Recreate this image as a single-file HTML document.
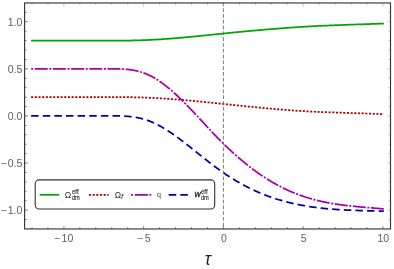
<!DOCTYPE html>
<html><head><meta charset="utf-8"><title>plot</title>
<style>html,body{margin:0;padding:0;background:#fff;}body{width:394px;height:269px;position:relative;overflow:hidden;font-family:"Liberation Sans",sans-serif;}</style>
</head><body>
<svg width="394" height="269" viewBox="0 0 394 269" style="position:absolute;left:0;top:0;will-change:transform">
<rect width="394" height="269" fill="#fff"/>
<path d="M31.10,40.61 L31.90,40.61 L32.70,40.61 L33.50,40.61 L34.31,40.61 L35.11,40.61 L35.91,40.61 L36.71,40.61 L37.51,40.61 L38.31,40.61 L39.12,40.61 L39.92,40.61 L40.72,40.61 L41.52,40.61 L42.32,40.61 L43.12,40.61 L43.93,40.61 L44.73,40.61 L45.53,40.61 L46.33,40.61 L47.13,40.61 L47.93,40.61 L48.74,40.61 L49.54,40.61 L50.34,40.61 L51.14,40.61 L51.94,40.61 L52.74,40.61 L53.54,40.61 L54.35,40.61 L55.15,40.61 L55.95,40.61 L56.75,40.61 L57.55,40.61 L58.35,40.61 L59.16,40.61 L59.96,40.61 L60.76,40.61 L61.56,40.61 L62.36,40.61 L63.16,40.61 L63.97,40.61 L64.77,40.61 L65.57,40.61 L66.37,40.61 L67.17,40.61 L67.97,40.61 L68.77,40.61 L69.58,40.61 L70.38,40.61 L71.18,40.61 L71.98,40.61 L72.78,40.61 L73.58,40.61 L74.39,40.61 L75.19,40.61 L75.99,40.61 L76.79,40.61 L77.59,40.61 L78.39,40.61 L79.20,40.61 L80.00,40.61 L80.80,40.61 L81.60,40.61 L82.40,40.61 L83.20,40.61 L84.01,40.61 L84.81,40.61 L85.61,40.61 L86.41,40.61 L87.21,40.61 L88.01,40.61 L88.81,40.61 L89.62,40.61 L90.42,40.61 L91.22,40.61 L92.02,40.61 L92.82,40.61 L93.62,40.61 L94.43,40.61 L95.23,40.61 L96.03,40.61 L96.83,40.61 L97.63,40.61 L98.43,40.61 L99.24,40.61 L100.04,40.61 L100.84,40.61 L101.64,40.61 L102.44,40.61 L103.24,40.61 L104.04,40.61 L104.85,40.61 L105.65,40.61 L106.45,40.61 L107.25,40.61 L108.05,40.61 L108.85,40.61 L109.66,40.61 L110.46,40.61 L111.26,40.61 L112.06,40.61 L112.86,40.61 L113.66,40.61 L114.47,40.61 L115.27,40.61 L116.07,40.61 L116.87,40.61 L117.67,40.61 L118.47,40.61 L119.28,40.61 L120.08,40.61 L120.88,40.61 L121.68,40.61 L122.48,40.61 L123.28,40.61 L124.08,40.61 L124.89,40.60 L125.69,40.59 L126.49,40.58 L127.29,40.57 L128.09,40.56 L128.89,40.55 L129.70,40.53 L130.50,40.52 L131.30,40.51 L132.10,40.49 L132.90,40.47 L133.70,40.46 L134.51,40.44 L135.31,40.42 L136.11,40.40 L136.91,40.38 L137.71,40.35 L138.51,40.33 L139.31,40.31 L140.12,40.28 L140.92,40.25 L141.72,40.23 L142.52,40.20 L143.32,40.17 L144.12,40.14 L144.93,40.11 L145.73,40.07 L146.53,40.04 L147.33,40.01 L148.13,39.97 L148.93,39.93 L149.74,39.90 L150.54,39.86 L151.34,39.82 L152.14,39.78 L152.94,39.74 L153.74,39.69 L154.55,39.65 L155.35,39.60 L156.15,39.56 L156.95,39.51 L157.75,39.47 L158.55,39.42 L159.35,39.37 L160.16,39.32 L160.96,39.27 L161.76,39.22 L162.56,39.16 L163.36,39.11 L164.16,39.06 L164.97,39.00 L165.77,38.94 L166.57,38.89 L167.37,38.83 L168.17,38.77 L168.97,38.71 L169.78,38.65 L170.58,38.59 L171.38,38.53 L172.18,38.47 L172.98,38.40 L173.78,38.34 L174.58,38.28 L175.39,38.21 L176.19,38.15 L176.99,38.08 L177.79,38.01 L178.59,37.94 L179.39,37.87 L180.20,37.81 L181.00,37.74 L181.80,37.66 L182.60,37.59 L183.40,37.52 L184.20,37.45 L185.01,37.38 L185.81,37.30 L186.61,37.23 L187.41,37.15 L188.21,37.08 L189.01,37.00 L189.82,36.93 L190.62,36.85 L191.42,36.77 L192.22,36.70 L193.02,36.62 L193.82,36.54 L194.62,36.46 L195.43,36.38 L196.23,36.30 L197.03,36.22 L197.83,36.14 L198.63,36.06 L199.43,35.98 L200.24,35.90 L201.04,35.82 L201.84,35.74 L202.64,35.66 L203.44,35.58 L204.24,35.50 L205.05,35.41 L205.85,35.33 L206.65,35.25 L207.45,35.17 L208.25,35.08 L209.05,35.00 L209.85,34.92 L210.66,34.84 L211.46,34.75 L212.26,34.67 L213.06,34.59 L213.86,34.50 L214.66,34.42 L215.47,34.34 L216.27,34.26 L217.07,34.17 L217.87,34.09 L218.67,34.01 L219.47,33.93 L220.28,33.84 L221.08,33.76 L221.88,33.68 L222.68,33.60 L223.48,33.52 L224.28,33.43 L225.09,33.35 L225.89,33.27 L226.69,33.19 L227.49,33.11 L228.29,33.03 L229.09,32.95 L229.89,32.87 L230.70,32.79 L231.50,32.71 L232.30,32.63 L233.10,32.55 L233.90,32.47 L234.70,32.39 L235.51,32.32 L236.31,32.24 L237.11,32.16 L237.91,32.08 L238.71,32.00 L239.51,31.93 L240.32,31.85 L241.12,31.77 L241.92,31.70 L242.72,31.62 L243.52,31.55 L244.32,31.47 L245.12,31.40 L245.93,31.32 L246.73,31.25 L247.53,31.17 L248.33,31.10 L249.13,31.03 L249.93,30.95 L250.74,30.88 L251.54,30.81 L252.34,30.74 L253.14,30.66 L253.94,30.59 L254.74,30.52 L255.55,30.45 L256.35,30.38 L257.15,30.31 L257.95,30.24 L258.75,30.17 L259.55,30.10 L260.36,30.03 L261.16,29.96 L261.96,29.89 L262.76,29.82 L263.56,29.75 L264.36,29.69 L265.16,29.62 L265.97,29.55 L266.77,29.48 L267.57,29.42 L268.37,29.35 L269.17,29.28 L269.97,29.22 L270.78,29.15 L271.58,29.09 L272.38,29.02 L273.18,28.96 L273.98,28.89 L274.78,28.83 L275.59,28.76 L276.39,28.70 L277.19,28.64 L277.99,28.57 L278.79,28.51 L279.59,28.45 L280.39,28.39 L281.20,28.32 L282.00,28.26 L282.80,28.20 L283.60,28.14 L284.40,28.08 L285.20,28.02 L286.01,27.96 L286.81,27.90 L287.61,27.84 L288.41,27.78 L289.21,27.73 L290.01,27.67 L290.82,27.61 L291.62,27.56 L292.42,27.50 L293.22,27.44 L294.02,27.39 L294.82,27.33 L295.62,27.28 L296.43,27.22 L297.23,27.17 L298.03,27.12 L298.83,27.07 L299.63,27.01 L300.43,26.96 L301.24,26.91 L302.04,26.86 L302.84,26.81 L303.64,26.76 L304.44,26.71 L305.24,26.67 L306.05,26.62 L306.85,26.57 L307.65,26.53 L308.45,26.48 L309.25,26.44 L310.05,26.39 L310.86,26.35 L311.66,26.30 L312.46,26.26 L313.26,26.22 L314.06,26.18 L314.86,26.14 L315.66,26.09 L316.47,26.05 L317.27,26.01 L318.07,25.97 L318.87,25.94 L319.67,25.90 L320.47,25.86 L321.28,25.82 L322.08,25.78 L322.88,25.75 L323.68,25.71 L324.48,25.68 L325.28,25.64 L326.09,25.60 L326.89,25.57 L327.69,25.53 L328.49,25.50 L329.29,25.47 L330.09,25.43 L330.90,25.40 L331.70,25.37 L332.50,25.34 L333.30,25.30 L334.10,25.27 L334.90,25.24 L335.70,25.21 L336.51,25.18 L337.31,25.15 L338.11,25.12 L338.91,25.09 L339.71,25.06 L340.51,25.03 L341.32,25.00 L342.12,24.97 L342.92,24.94 L343.72,24.91 L344.52,24.88 L345.32,24.86 L346.13,24.83 L346.93,24.80 L347.73,24.77 L348.53,24.74 L349.33,24.72 L350.13,24.69 L350.93,24.66 L351.74,24.63 L352.54,24.61 L353.34,24.58 L354.14,24.55 L354.94,24.53 L355.74,24.50 L356.55,24.47 L357.35,24.45 L358.15,24.42 L358.95,24.39 L359.75,24.37 L360.55,24.34 L361.36,24.31 L362.16,24.29 L362.96,24.26 L363.76,24.23 L364.56,24.21 L365.36,24.18 L366.17,24.16 L366.97,24.13 L367.77,24.10 L368.57,24.07 L369.37,24.05 L370.17,24.02 L370.97,23.99 L371.78,23.97 L372.58,23.94 L373.38,23.91 L374.18,23.88 L374.98,23.86 L375.78,23.83 L376.59,23.80 L377.39,23.77 L378.19,23.74 L378.99,23.71 L379.79,23.68 L380.59,23.66 L381.40,23.63 L382.20,23.60 L383.00,23.57 L383.80,23.57" fill="none" stroke="#00a500" stroke-width="1.75"/>
<path d="M31.10,97.12 L31.90,97.12 L32.70,97.12 L33.50,97.12 L34.31,97.12 L35.11,97.12 L35.91,97.12 L36.71,97.12 L37.51,97.12 L38.31,97.12 L39.12,97.12 L39.92,97.12 L40.72,97.12 L41.52,97.12 L42.32,97.12 L43.12,97.12 L43.93,97.12 L44.73,97.12 L45.53,97.12 L46.33,97.12 L47.13,97.12 L47.93,97.12 L48.74,97.12 L49.54,97.12 L50.34,97.12 L51.14,97.12 L51.94,97.12 L52.74,97.12 L53.54,97.12 L54.35,97.12 L55.15,97.12 L55.95,97.12 L56.75,97.12 L57.55,97.12 L58.35,97.12 L59.16,97.12 L59.96,97.12 L60.76,97.12 L61.56,97.12 L62.36,97.12 L63.16,97.12 L63.97,97.12 L64.77,97.12 L65.57,97.12 L66.37,97.12 L67.17,97.12 L67.97,97.12 L68.77,97.12 L69.58,97.12 L70.38,97.12 L71.18,97.12 L71.98,97.12 L72.78,97.12 L73.58,97.12 L74.39,97.12 L75.19,97.12 L75.99,97.12 L76.79,97.12 L77.59,97.12 L78.39,97.12 L79.20,97.12 L80.00,97.12 L80.80,97.12 L81.60,97.12 L82.40,97.12 L83.20,97.12 L84.01,97.12 L84.81,97.12 L85.61,97.12 L86.41,97.12 L87.21,97.12 L88.01,97.12 L88.81,97.12 L89.62,97.12 L90.42,97.12 L91.22,97.12 L92.02,97.12 L92.82,97.12 L93.62,97.12 L94.43,97.12 L95.23,97.12 L96.03,97.12 L96.83,97.12 L97.63,97.12 L98.43,97.12 L99.24,97.12 L100.04,97.12 L100.84,97.12 L101.64,97.12 L102.44,97.12 L103.24,97.12 L104.04,97.12 L104.85,97.12 L105.65,97.12 L106.45,97.12 L107.25,97.12 L108.05,97.12 L108.85,97.12 L109.66,97.12 L110.46,97.12 L111.26,97.12 L112.06,97.12 L112.86,97.12 L113.66,97.12 L114.47,97.12 L115.27,97.12 L116.07,97.12 L116.87,97.12 L117.67,97.12 L118.47,97.12 L119.28,97.12 L120.08,97.12 L120.88,97.12 L121.68,97.12 L122.48,97.12 L123.28,97.13 L124.08,97.13 L124.89,97.13 L125.69,97.14 L126.49,97.15 L127.29,97.16 L128.09,97.17 L128.89,97.18 L129.70,97.19 L130.50,97.20 L131.30,97.21 L132.10,97.22 L132.90,97.24 L133.70,97.25 L134.51,97.27 L135.31,97.28 L136.11,97.30 L136.91,97.32 L137.71,97.34 L138.51,97.36 L139.31,97.38 L140.12,97.40 L140.92,97.43 L141.72,97.45 L142.52,97.48 L143.32,97.51 L144.12,97.53 L144.93,97.56 L145.73,97.59 L146.53,97.63 L147.33,97.66 L148.13,97.69 L148.93,97.73 L149.74,97.76 L150.54,97.80 L151.34,97.84 L152.14,97.87 L152.94,97.91 L153.74,97.96 L154.55,98.00 L155.35,98.04 L156.15,98.08 L156.95,98.13 L157.75,98.17 L158.55,98.22 L159.35,98.27 L160.16,98.31 L160.96,98.36 L161.76,98.41 L162.56,98.46 L163.36,98.51 L164.16,98.57 L164.97,98.62 L165.77,98.67 L166.57,98.73 L167.37,98.78 L168.17,98.84 L168.97,98.90 L169.78,98.95 L170.58,99.01 L171.38,99.07 L172.18,99.13 L172.98,99.19 L173.78,99.25 L174.58,99.32 L175.39,99.38 L176.19,99.44 L176.99,99.51 L177.79,99.57 L178.59,99.64 L179.39,99.70 L180.20,99.77 L181.00,99.83 L181.80,99.90 L182.60,99.97 L183.40,100.04 L184.20,100.11 L185.01,100.18 L185.81,100.25 L186.61,100.32 L187.41,100.39 L188.21,100.46 L189.01,100.53 L189.82,100.61 L190.62,100.68 L191.42,100.75 L192.22,100.83 L193.02,100.90 L193.82,100.98 L194.62,101.05 L195.43,101.13 L196.23,101.20 L197.03,101.28 L197.83,101.36 L198.63,101.43 L199.43,101.51 L200.24,101.59 L201.04,101.66 L201.84,101.74 L202.64,101.82 L203.44,101.90 L204.24,101.98 L205.05,102.06 L205.85,102.14 L206.65,102.22 L207.45,102.30 L208.25,102.38 L209.05,102.46 L209.85,102.54 L210.66,102.62 L211.46,102.70 L212.26,102.78 L213.06,102.87 L213.86,102.95 L214.66,103.03 L215.47,103.11 L216.27,103.20 L217.07,103.28 L217.87,103.36 L218.67,103.44 L219.47,103.53 L220.28,103.61 L221.08,103.69 L221.88,103.78 L222.68,103.86 L223.48,103.94 L224.28,104.03 L225.09,104.11 L225.89,104.19 L226.69,104.28 L227.49,104.36 L228.29,104.44 L229.09,104.53 L229.89,104.61 L230.70,104.69 L231.50,104.78 L232.30,104.86 L233.10,104.94 L233.90,105.03 L234.70,105.11 L235.51,105.20 L236.31,105.28 L237.11,105.36 L237.91,105.45 L238.71,105.53 L239.51,105.61 L240.32,105.69 L241.12,105.78 L241.92,105.86 L242.72,105.94 L243.52,106.02 L244.32,106.11 L245.12,106.19 L245.93,106.27 L246.73,106.35 L247.53,106.43 L248.33,106.52 L249.13,106.60 L249.93,106.68 L250.74,106.76 L251.54,106.84 L252.34,106.92 L253.14,107.00 L253.94,107.08 L254.74,107.16 L255.55,107.24 L256.35,107.32 L257.15,107.40 L257.95,107.47 L258.75,107.55 L259.55,107.63 L260.36,107.71 L261.16,107.78 L261.96,107.86 L262.76,107.94 L263.56,108.01 L264.36,108.09 L265.16,108.16 L265.97,108.24 L266.77,108.31 L267.57,108.39 L268.37,108.46 L269.17,108.54 L269.97,108.61 L270.78,108.68 L271.58,108.75 L272.38,108.82 L273.18,108.90 L273.98,108.97 L274.78,109.04 L275.59,109.11 L276.39,109.18 L277.19,109.24 L277.99,109.31 L278.79,109.38 L279.59,109.45 L280.39,109.51 L281.20,109.58 L282.00,109.64 L282.80,109.71 L283.60,109.77 L284.40,109.84 L285.20,109.90 L286.01,109.96 L286.81,110.03 L287.61,110.09 L288.41,110.15 L289.21,110.21 L290.01,110.27 L290.82,110.33 L291.62,110.38 L292.42,110.44 L293.22,110.50 L294.02,110.55 L294.82,110.61 L295.62,110.66 L296.43,110.72 L297.23,110.77 L298.03,110.82 L298.83,110.88 L299.63,110.93 L300.43,110.98 L301.24,111.03 L302.04,111.07 L302.84,111.12 L303.64,111.17 L304.44,111.22 L305.24,111.26 L306.05,111.31 L306.85,111.35 L307.65,111.39 L308.45,111.44 L309.25,111.48 L310.05,111.52 L310.86,111.56 L311.66,111.60 L312.46,111.64 L313.26,111.68 L314.06,111.71 L314.86,111.75 L315.66,111.79 L316.47,111.82 L317.27,111.86 L318.07,111.89 L318.87,111.93 L319.67,111.96 L320.47,112.00 L321.28,112.03 L322.08,112.06 L322.88,112.09 L323.68,112.12 L324.48,112.15 L325.28,112.18 L326.09,112.21 L326.89,112.24 L327.69,112.27 L328.49,112.30 L329.29,112.33 L330.09,112.36 L330.90,112.39 L331.70,112.41 L332.50,112.44 L333.30,112.47 L334.10,112.49 L334.90,112.52 L335.70,112.55 L336.51,112.57 L337.31,112.60 L338.11,112.62 L338.91,112.65 L339.71,112.67 L340.51,112.70 L341.32,112.72 L342.12,112.75 L342.92,112.77 L343.72,112.80 L344.52,112.82 L345.32,112.85 L346.13,112.87 L346.93,112.89 L347.73,112.92 L348.53,112.94 L349.33,112.97 L350.13,112.99 L350.93,113.01 L351.74,113.04 L352.54,113.06 L353.34,113.09 L354.14,113.11 L354.94,113.14 L355.74,113.16 L356.55,113.18 L357.35,113.21 L358.15,113.23 L358.95,113.26 L359.75,113.29 L360.55,113.31 L361.36,113.34 L362.16,113.36 L362.96,113.39 L363.76,113.42 L364.56,113.44 L365.36,113.47 L366.17,113.50 L366.97,113.52 L367.77,113.55 L368.57,113.58 L369.37,113.61 L370.17,113.64 L370.97,113.67 L371.78,113.70 L372.58,113.73 L373.38,113.76 L374.18,113.79 L374.98,113.82 L375.78,113.85 L376.59,113.89 L377.39,113.92 L378.19,113.95 L378.99,113.99 L379.79,114.02 L380.59,114.06 L381.40,114.09 L382.20,114.13 L383.00,114.16 L383.80,114.16" fill="none" stroke="#aa0000" stroke-width="1.75" stroke-dasharray="2.1 1.58"/>
<path d="M31.10,68.87 L31.90,68.87 L32.70,68.87 L33.50,68.87 L34.31,68.87 L35.11,68.87 L35.91,68.87 L36.71,68.87 L37.51,68.87 L38.31,68.87 L39.12,68.87 L39.92,68.87 L40.72,68.87 L41.52,68.87 L42.32,68.87 L43.12,68.87 L43.93,68.87 L44.73,68.87 L45.53,68.87 L46.33,68.87 L47.13,68.87 L47.93,68.87 L48.74,68.87 L49.54,68.87 L50.34,68.87 L51.14,68.87 L51.94,68.87 L52.74,68.87 L53.54,68.87 L54.35,68.87 L55.15,68.87 L55.95,68.87 L56.75,68.87 L57.55,68.87 L58.35,68.87 L59.16,68.87 L59.96,68.87 L60.76,68.87 L61.56,68.87 L62.36,68.87 L63.16,68.87 L63.97,68.87 L64.77,68.87 L65.57,68.87 L66.37,68.87 L67.17,68.87 L67.97,68.87 L68.77,68.87 L69.58,68.87 L70.38,68.87 L71.18,68.87 L71.98,68.87 L72.78,68.87 L73.58,68.87 L74.39,68.87 L75.19,68.87 L75.99,68.87 L76.79,68.87 L77.59,68.87 L78.39,68.87 L79.20,68.87 L80.00,68.87 L80.80,68.87 L81.60,68.87 L82.40,68.87 L83.20,68.87 L84.01,68.87 L84.81,68.87 L85.61,68.87 L86.41,68.87 L87.21,68.87 L88.01,68.87 L88.81,68.87 L89.62,68.87 L90.42,68.87 L91.22,68.87 L92.02,68.87 L92.82,68.87 L93.62,68.87 L94.43,68.87 L95.23,68.87 L96.03,68.87 L96.83,68.87 L97.63,68.87 L98.43,68.87 L99.24,68.87 L100.04,68.87 L100.84,68.87 L101.64,68.87 L102.44,68.87 L103.24,68.87 L104.04,68.87 L104.85,68.87 L105.65,68.87 L106.45,68.87 L107.25,68.87 L108.05,68.87 L108.85,68.87 L109.66,68.87 L110.46,68.87 L111.26,68.87 L112.06,68.87 L112.86,68.87 L113.66,68.87 L114.47,68.87 L115.27,68.87 L116.07,68.87 L116.87,68.87 L117.67,68.88 L118.47,68.89 L119.28,68.90 L120.08,68.91 L120.88,68.93 L121.68,68.97 L122.48,69.01 L123.28,69.06 L124.08,69.11 L124.89,69.17 L125.69,69.23 L126.49,69.30 L127.29,69.38 L128.09,69.46 L128.89,69.55 L129.70,69.65 L130.50,69.76 L131.30,69.87 L132.10,69.99 L132.90,70.13 L133.70,70.27 L134.51,70.42 L135.31,70.58 L136.11,70.75 L136.91,70.93 L137.71,71.13 L138.51,71.33 L139.31,71.55 L140.12,71.77 L140.92,72.01 L141.72,72.26 L142.52,72.52 L143.32,72.80 L144.12,73.09 L144.93,73.39 L145.73,73.71 L146.53,74.04 L147.33,74.38 L148.13,74.73 L148.93,75.11 L149.74,75.49 L150.54,75.90 L151.34,76.31 L152.14,76.73 L152.94,77.17 L153.74,77.63 L154.55,78.09 L155.35,78.57 L156.15,79.06 L156.95,79.56 L157.75,80.07 L158.55,80.60 L159.35,81.14 L160.16,81.69 L160.96,82.25 L161.76,82.82 L162.56,83.40 L163.36,83.99 L164.16,84.59 L164.97,85.21 L165.77,85.83 L166.57,86.46 L167.37,87.11 L168.17,87.76 L168.97,88.42 L169.78,89.09 L170.58,89.77 L171.38,90.46 L172.18,91.15 L172.98,91.86 L173.78,92.57 L174.58,93.29 L175.39,94.02 L176.19,94.76 L176.99,95.50 L177.79,96.25 L178.59,97.01 L179.39,97.78 L180.20,98.55 L181.00,99.33 L181.80,100.11 L182.60,100.90 L183.40,101.70 L184.20,102.50 L185.01,103.30 L185.81,104.12 L186.61,104.93 L187.41,105.75 L188.21,106.58 L189.01,107.41 L189.82,108.24 L190.62,109.08 L191.42,109.92 L192.22,110.77 L193.02,111.62 L193.82,112.47 L194.62,113.32 L195.43,114.17 L196.23,115.03 L197.03,115.89 L197.83,116.75 L198.63,117.62 L199.43,118.48 L200.24,119.34 L201.04,120.21 L201.84,121.07 L202.64,121.94 L203.44,122.81 L204.24,123.67 L205.05,124.54 L205.85,125.40 L206.65,126.26 L207.45,127.13 L208.25,127.99 L209.05,128.84 L209.85,129.70 L210.66,130.56 L211.46,131.41 L212.26,132.26 L213.06,133.10 L213.86,133.95 L214.66,134.78 L215.47,135.62 L216.27,136.45 L217.07,137.28 L217.87,138.10 L218.67,138.92 L219.47,139.73 L220.28,140.54 L221.08,141.34 L221.88,142.14 L222.68,142.93 L223.48,143.72 L224.28,144.51 L225.09,145.29 L225.89,146.06 L226.69,146.83 L227.49,147.60 L228.29,148.36 L229.09,149.11 L229.89,149.86 L230.70,150.61 L231.50,151.35 L232.30,152.09 L233.10,152.82 L233.90,153.54 L234.70,154.27 L235.51,154.98 L236.31,155.69 L237.11,156.40 L237.91,157.10 L238.71,157.80 L239.51,158.49 L240.32,159.17 L241.12,159.86 L241.92,160.53 L242.72,161.20 L243.52,161.87 L244.32,162.53 L245.12,163.18 L245.93,163.83 L246.73,164.48 L247.53,165.11 L248.33,165.75 L249.13,166.38 L249.93,167.00 L250.74,167.62 L251.54,168.23 L252.34,168.83 L253.14,169.44 L253.94,170.03 L254.74,170.62 L255.55,171.21 L256.35,171.78 L257.15,172.36 L257.95,172.93 L258.75,173.49 L259.55,174.04 L260.36,174.60 L261.16,175.14 L261.96,175.68 L262.76,176.21 L263.56,176.74 L264.36,177.27 L265.16,177.78 L265.97,178.30 L266.77,178.80 L267.57,179.30 L268.37,179.80 L269.17,180.29 L269.97,180.78 L270.78,181.26 L271.58,181.73 L272.38,182.20 L273.18,182.66 L273.98,183.12 L274.78,183.57 L275.59,184.02 L276.39,184.46 L277.19,184.90 L277.99,185.33 L278.79,185.76 L279.59,186.18 L280.39,186.59 L281.20,187.00 L282.00,187.41 L282.80,187.81 L283.60,188.21 L284.40,188.60 L285.20,188.98 L286.01,189.36 L286.81,189.74 L287.61,190.11 L288.41,190.47 L289.21,190.83 L290.01,191.18 L290.82,191.53 L291.62,191.88 L292.42,192.22 L293.22,192.55 L294.02,192.88 L294.82,193.21 L295.62,193.53 L296.43,193.84 L297.23,194.15 L298.03,194.46 L298.83,194.76 L299.63,195.06 L300.43,195.35 L301.24,195.63 L302.04,195.92 L302.84,196.19 L303.64,196.46 L304.44,196.73 L305.24,197.00 L306.05,197.25 L306.85,197.51 L307.65,197.76 L308.45,198.00 L309.25,198.24 L310.05,198.48 L310.86,198.71 L311.66,198.94 L312.46,199.16 L313.26,199.38 L314.06,199.60 L314.86,199.81 L315.66,200.02 L316.47,200.22 L317.27,200.42 L318.07,200.62 L318.87,200.81 L319.67,201.00 L320.47,201.18 L321.28,201.36 L322.08,201.54 L322.88,201.72 L323.68,201.89 L324.48,202.05 L325.28,202.22 L326.09,202.38 L326.89,202.53 L327.69,202.69 L328.49,202.84 L329.29,202.99 L330.09,203.13 L330.90,203.27 L331.70,203.41 L332.50,203.55 L333.30,203.68 L334.10,203.81 L334.90,203.94 L335.70,204.06 L336.51,204.18 L337.31,204.30 L338.11,204.42 L338.91,204.53 L339.71,204.64 L340.51,204.75 L341.32,204.86 L342.12,204.96 L342.92,205.07 L343.72,205.17 L344.52,205.26 L345.32,205.36 L346.13,205.45 L346.93,205.54 L347.73,205.62 L348.53,205.69 L349.33,205.79 L350.13,205.88 L350.93,205.97 L351.74,206.05 L352.54,206.14 L353.34,206.22 L354.14,206.31 L354.94,206.39 L355.74,206.47 L356.55,206.55 L357.35,206.63 L358.15,206.71 L358.95,206.78 L359.75,206.86 L360.55,206.93 L361.36,207.01 L362.16,207.08 L362.96,207.15 L363.76,207.22 L364.56,207.29 L365.36,207.36 L366.17,207.43 L366.97,207.50 L367.77,207.57 L368.57,207.64 L369.37,207.71 L370.17,207.78 L370.97,207.85 L371.78,207.91 L372.58,207.98 L373.38,208.05 L374.18,208.12 L374.98,208.19 L375.78,208.26 L376.59,208.33 L377.39,208.39 L378.19,208.46 L378.99,208.53 L379.79,208.61 L380.59,208.68 L381.40,208.75 L382.20,208.82 L383.00,208.89 L383.80,208.89" fill="none" stroke="#aa00aa" stroke-width="1.75" stroke-dasharray="2.0 1.6 13.0 1.6"/>
<path d="M31.10,115.95 L31.90,115.95 L32.70,115.95 L33.50,115.95 L34.31,115.95 L35.11,115.95 L35.91,115.95 L36.71,115.95 L37.51,115.95 L38.31,115.95 L39.12,115.95 L39.92,115.95 L40.72,115.95 L41.52,115.95 L42.32,115.95 L43.12,115.95 L43.93,115.95 L44.73,115.95 L45.53,115.95 L46.33,115.95 L47.13,115.95 L47.93,115.95 L48.74,115.95 L49.54,115.95 L50.34,115.95 L51.14,115.95 L51.94,115.95 L52.74,115.95 L53.54,115.95 L54.35,115.95 L55.15,115.95 L55.95,115.95 L56.75,115.95 L57.55,115.95 L58.35,115.95 L59.16,115.95 L59.96,115.95 L60.76,115.95 L61.56,115.95 L62.36,115.95 L63.16,115.95 L63.97,115.95 L64.77,115.95 L65.57,115.95 L66.37,115.95 L67.17,115.95 L67.97,115.95 L68.77,115.95 L69.58,115.95 L70.38,115.95 L71.18,115.95 L71.98,115.95 L72.78,115.95 L73.58,115.95 L74.39,115.95 L75.19,115.95 L75.99,115.95 L76.79,115.95 L77.59,115.95 L78.39,115.95 L79.20,115.95 L80.00,115.95 L80.80,115.95 L81.60,115.95 L82.40,115.95 L83.20,115.95 L84.01,115.95 L84.81,115.95 L85.61,115.95 L86.41,115.95 L87.21,115.95 L88.01,115.95 L88.81,115.95 L89.62,115.95 L90.42,115.95 L91.22,115.95 L92.02,115.95 L92.82,115.95 L93.62,115.95 L94.43,115.95 L95.23,115.95 L96.03,115.95 L96.83,115.95 L97.63,115.95 L98.43,115.95 L99.24,115.95 L100.04,115.95 L100.84,115.95 L101.64,115.95 L102.44,115.95 L103.24,115.95 L104.04,115.95 L104.85,115.95 L105.65,115.95 L106.45,115.95 L107.25,115.95 L108.05,115.95 L108.85,115.95 L109.66,115.95 L110.46,115.95 L111.26,115.95 L112.06,115.95 L112.86,115.95 L113.66,115.95 L114.47,115.95 L115.27,115.95 L116.07,115.95 L116.87,115.95 L117.67,115.95 L118.47,115.96 L119.28,115.96 L120.08,115.97 L120.88,115.99 L121.68,116.01 L122.48,116.04 L123.28,116.07 L124.08,116.11 L124.89,116.15 L125.69,116.20 L126.49,116.25 L127.29,116.31 L128.09,116.37 L128.89,116.44 L129.70,116.52 L130.50,116.60 L131.30,116.69 L132.10,116.79 L132.90,116.89 L133.70,117.00 L134.51,117.12 L135.31,117.25 L136.11,117.38 L136.91,117.53 L137.71,117.68 L138.51,117.84 L139.31,118.02 L140.12,118.19 L140.92,118.38 L141.72,118.58 L142.52,118.80 L143.32,119.02 L144.12,119.25 L144.93,119.49 L145.73,119.74 L146.53,120.01 L147.33,120.28 L148.13,120.57 L148.93,120.86 L149.74,121.18 L150.54,121.50 L151.34,121.83 L152.14,122.17 L152.94,122.52 L153.74,122.88 L154.55,123.26 L155.35,123.64 L156.15,124.03 L156.95,124.43 L157.75,124.84 L158.55,125.26 L159.35,125.69 L160.16,126.13 L160.96,126.57 L161.76,127.03 L162.56,127.49 L163.36,127.96 L164.16,128.44 L164.97,128.93 L165.77,129.42 L166.57,129.92 L167.37,130.43 L168.17,130.94 L168.97,131.47 L169.78,132.00 L170.58,132.53 L171.38,133.07 L172.18,133.62 L172.98,134.17 L173.78,134.73 L174.58,135.30 L175.39,135.87 L176.19,136.44 L176.99,137.02 L177.79,137.61 L178.59,138.20 L179.39,138.79 L180.20,139.39 L181.00,139.99 L181.80,140.60 L182.60,141.21 L183.40,141.82 L184.20,142.44 L185.01,143.06 L185.81,143.69 L186.61,144.31 L187.41,144.94 L188.21,145.57 L189.01,146.20 L189.82,146.84 L190.62,147.48 L191.42,148.12 L192.22,148.76 L193.02,149.40 L193.82,150.04 L194.62,150.68 L195.43,151.33 L196.23,151.97 L197.03,152.62 L197.83,153.26 L198.63,153.91 L199.43,154.55 L200.24,155.19 L201.04,155.84 L201.84,156.48 L202.64,157.12 L203.44,157.76 L204.24,158.40 L205.05,159.03 L205.85,159.67 L206.65,160.30 L207.45,160.93 L208.25,161.56 L209.05,162.19 L209.85,162.81 L210.66,163.43 L211.46,164.04 L212.26,164.66 L213.06,165.27 L213.86,165.87 L214.66,166.47 L215.47,167.07 L216.27,167.66 L217.07,168.25 L217.87,168.83 L218.67,169.41 L219.47,169.99 L220.28,170.56 L221.08,171.12 L221.88,171.68 L222.68,172.24 L223.48,172.79 L224.28,173.34 L225.09,173.88 L225.89,174.41 L226.69,174.95 L227.49,175.47 L228.29,175.99 L229.09,176.51 L229.89,177.03 L230.70,177.54 L231.50,178.04 L232.30,178.54 L233.10,179.03 L233.90,179.52 L234.70,180.01 L235.51,180.49 L236.31,180.96 L237.11,181.44 L237.91,181.90 L238.71,182.37 L239.51,182.82 L240.32,183.28 L241.12,183.72 L241.92,184.17 L242.72,184.61 L243.52,185.04 L244.32,185.47 L245.12,185.90 L245.93,186.32 L246.73,186.73 L247.53,187.14 L248.33,187.55 L249.13,187.95 L249.93,188.35 L250.74,188.74 L251.54,189.13 L252.34,189.51 L253.14,189.89 L253.94,190.27 L254.74,190.64 L255.55,191.00 L256.35,191.37 L257.15,191.72 L257.95,192.07 L258.75,192.42 L259.55,192.76 L260.36,193.10 L261.16,193.44 L261.96,193.77 L262.76,194.09 L263.56,194.41 L264.36,194.73 L265.16,195.04 L265.97,195.35 L266.77,195.65 L267.57,195.95 L268.37,196.25 L269.17,196.54 L269.97,196.83 L270.78,197.11 L271.58,197.39 L272.38,197.66 L273.18,197.94 L273.98,198.20 L274.78,198.47 L275.59,198.73 L276.39,198.98 L277.19,199.23 L277.99,199.48 L278.79,199.73 L279.59,199.97 L280.39,200.20 L281.20,200.44 L282.00,200.67 L282.80,200.89 L283.60,201.12 L284.40,201.33 L285.20,201.55 L286.01,201.76 L286.81,201.97 L287.61,202.18 L288.41,202.38 L289.21,202.58 L290.01,202.77 L290.82,202.96 L291.62,203.15 L292.42,203.34 L293.22,203.52 L294.02,203.70 L294.82,203.87 L295.62,204.05 L296.43,204.22 L297.23,204.38 L298.03,204.55 L298.83,204.71 L299.63,204.87 L300.43,205.02 L301.24,205.17 L302.04,205.32 L302.84,205.47 L303.64,205.61 L304.44,205.75 L305.24,205.89 L306.05,206.03 L306.85,206.16 L307.65,206.29 L308.45,206.41 L309.25,206.54 L310.05,206.66 L310.86,206.78 L311.66,206.90 L312.46,207.01 L313.26,207.13 L314.06,207.24 L314.86,207.34 L315.66,207.45 L316.47,207.55 L317.27,207.65 L318.07,207.75 L318.87,207.85 L319.67,207.94 L320.47,208.03 L321.28,208.12 L322.08,208.21 L322.88,208.30 L323.68,208.38 L324.48,208.46 L325.28,208.54 L326.09,208.62 L326.89,208.69 L327.69,208.77 L328.49,208.84 L329.29,208.91 L330.09,208.98 L330.90,209.05 L331.70,209.11 L332.50,209.17 L333.30,209.24 L334.10,209.30 L334.90,209.35 L335.70,209.41 L336.51,209.47 L337.31,209.52 L338.11,209.57 L338.91,209.62 L339.71,209.67 L340.51,209.72 L341.32,209.77 L342.12,209.81 L342.92,209.86 L343.72,209.90 L344.52,209.94 L345.32,209.98 L346.13,210.02 L346.93,210.06 L347.73,210.10 L348.53,210.13 L349.33,210.17 L350.13,210.20 L350.93,210.24 L351.74,210.27 L352.54,210.30 L353.34,210.33 L354.14,210.36 L354.94,210.39 L355.74,210.42 L356.55,210.44 L357.35,210.47 L358.15,210.49 L358.95,210.52 L359.75,210.54 L360.55,210.57 L361.36,210.59 L362.16,210.61 L362.96,210.64 L363.76,210.66 L364.56,210.68 L365.36,210.70 L366.17,210.72 L366.97,210.74 L367.77,210.76 L368.57,210.78 L369.37,210.80 L370.17,210.82 L370.97,210.83 L371.78,210.85 L372.58,210.87 L373.38,210.89 L374.18,210.91 L374.98,210.92 L375.78,210.94 L376.59,210.96 L377.39,210.98 L378.19,211.00 L378.99,211.02 L379.79,211.03 L380.59,211.05 L381.40,211.07 L382.20,211.09 L383.00,211.11 L383.80,211.11" fill="none" stroke="#0000aa" stroke-width="1.75" stroke-dasharray="7.5 4.13"/>
<line x1="223.4" y1="2.4" x2="223.4" y2="228.95" stroke="#6e6e6e" stroke-width="0.9" stroke-dasharray="3.8 2.0"/>
<path d="M32.00,228.95v-1.9M47.95,228.95v-1.9M63.90,228.95v-2.9M79.85,228.95v-1.9M95.80,228.95v-1.9M111.75,228.95v-1.9M127.70,228.95v-1.9M143.65,228.95v-2.9M159.60,228.95v-1.9M175.55,228.95v-1.9M191.50,228.95v-1.9M207.45,228.95v-1.9M223.40,228.95v-2.9M239.35,228.95v-1.9M255.30,228.95v-1.9M271.25,228.95v-1.9M287.20,228.95v-1.9M303.15,228.95v-2.9M319.10,228.95v-1.9M335.05,228.95v-1.9M351.00,228.95v-1.9M366.95,228.95v-1.9M382.90,228.95v-2.9" stroke="#555" stroke-width="0.7" fill="none"/>
<path d="M32.00,2.95v2.3M47.95,2.95v2.3M63.90,2.95v3.9M79.85,2.95v2.3M95.80,2.95v2.3M111.75,2.95v2.3M127.70,2.95v2.3M143.65,2.95v3.9M159.60,2.95v2.3M175.55,2.95v2.3M191.50,2.95v2.3M207.45,2.95v2.3M223.40,2.95v3.9M239.35,2.95v2.3M255.30,2.95v2.3M271.25,2.95v2.3M287.20,2.95v2.3M303.15,2.95v3.9M319.10,2.95v2.3M335.05,2.95v2.3M351.00,2.95v2.3M366.95,2.95v2.3M382.90,2.95v3.9" stroke="#a8a8a8" stroke-width="0.6" fill="none"/>
<path d="M24.6,219.54h2.1M24.6,210.12h3.3M24.6,200.70h2.1M24.6,191.29h2.1M24.6,181.87h2.1M24.6,172.45h2.1M24.6,163.03h3.3M24.6,153.62h2.1M24.6,144.20h2.1M24.6,134.78h2.1M24.6,125.37h2.1M24.6,115.95h3.3M24.6,106.53h2.1M24.6,97.12h2.1M24.6,87.70h2.1M24.6,78.28h2.1M24.6,68.87h3.3M24.6,59.45h2.1M24.6,50.03h2.1M24.6,40.61h2.1M24.6,31.20h2.1M24.6,21.78h3.3M24.6,12.36h2.1" stroke="#666" stroke-width="0.8" fill="none"/>
<path d="M390.5,219.54h-2.1M390.5,210.12h-3.3M390.5,200.70h-2.1M390.5,191.29h-2.1M390.5,181.87h-2.1M390.5,172.45h-2.1M390.5,163.03h-3.3M390.5,153.62h-2.1M390.5,144.20h-2.1M390.5,134.78h-2.1M390.5,125.37h-2.1M390.5,115.95h-3.3M390.5,106.53h-2.1M390.5,97.12h-2.1M390.5,87.70h-2.1M390.5,78.28h-2.1M390.5,68.87h-3.3M390.5,59.45h-2.1M390.5,50.03h-2.1M390.5,40.61h-2.1M390.5,31.20h-2.1M390.5,21.78h-3.3M390.5,12.36h-2.1" stroke="#b4b4b4" stroke-width="0.7" fill="none"/>
<rect x="24.6" y="2.95" width="365.9" height="226.0" fill="none" stroke="#363636" stroke-width="1.15"/>
<rect x="35.2" y="179.9" width="179.5" height="29.15" rx="4" ry="4" fill="#fff" stroke="#333" stroke-width="1.1"/>
<line x1="39.6" y1="194.8" x2="59.2" y2="194.8" stroke="#00a500" stroke-width="1.75"/>
<line x1="88.9" y1="194.8" x2="108.7" y2="194.8" stroke="#aa0000" stroke-width="1.75" stroke-dasharray="2.1 1.58"/>
<line x1="131.1" y1="194.8" x2="151.6" y2="194.8" stroke="#aa00aa" stroke-width="1.75" stroke-dasharray="1.9 1.8 13.1 1.5"/>
<line x1="168.7" y1="194.8" x2="188" y2="194.8" stroke="#0000aa" stroke-width="1.75" stroke-dasharray="7.5 4.13"/>
<text x="22.4" y="25.8" text-anchor="end" font-family="Liberation Sans, sans-serif" font-size="10.5" fill="#5e5e5e">1.0</text>
<text x="22.4" y="72.8" text-anchor="end" font-family="Liberation Sans, sans-serif" font-size="10.5" fill="#5e5e5e">0.5</text>
<text x="22.4" y="119.8" text-anchor="end" font-family="Liberation Sans, sans-serif" font-size="10.5" fill="#5e5e5e">0.0</text>
<text x="22.4" y="166.8" text-anchor="end" font-family="Liberation Sans, sans-serif" font-size="10.5" fill="#5e5e5e">0.5</text>
<text x="0.4" y="166.8" font-family="Liberation Sans, sans-serif" font-size="10.5" fill="#5e5e5e">−</text>
<text x="22.4" y="213.8" text-anchor="end" font-family="Liberation Sans, sans-serif" font-size="10.5" fill="#5e5e5e">1.0</text>
<text x="0.4" y="213.8" font-family="Liberation Sans, sans-serif" font-size="10.5" fill="#5e5e5e">−</text>
<text x="67.40" y="241.6" text-anchor="middle" font-family="Liberation Sans, sans-serif" font-size="10.5" fill="#5e5e5e">10</text>
<text x="53.9" y="241.6" font-family="Liberation Sans, sans-serif" font-size="10.5" fill="#5e5e5e">−</text>
<text x="147.55" y="241.6" text-anchor="middle" font-family="Liberation Sans, sans-serif" font-size="10.5" fill="#5e5e5e">5</text>
<text x="137.05" y="241.6" font-family="Liberation Sans, sans-serif" font-size="10.5" fill="#5e5e5e">−</text>
<text x="223.80" y="241.6" text-anchor="middle" font-family="Liberation Sans, sans-serif" font-size="10.5" fill="#5e5e5e">0</text>
<text x="303.55" y="241.6" text-anchor="middle" font-family="Liberation Sans, sans-serif" font-size="10.5" fill="#5e5e5e">5</text>
<text x="383.30" y="241.6" text-anchor="middle" font-family="Liberation Sans, sans-serif" font-size="10.5" fill="#5e5e5e">10</text>
<text transform="translate(207.9,264.8) scale(0.94,1)" text-anchor="middle" font-family="Liberation Sans, sans-serif" font-size="17.8" font-style="italic" fill="#222">τ</text>
<text transform="translate(64.7,197.9) scale(1.0,1)" font-family="Liberation Sans, sans-serif" font-size="8.5" fill="#2e2e2e">Ω</text>
<text transform="translate(71.9,193.8) scale(0.93,1)" font-family="Liberation Sans, sans-serif" font-size="6.6" fill="#2e2e2e" stroke="#2e2e2e" stroke-width="0.15">eff</text>
<text transform="translate(71.9,199.6) scale(0.86,1)" font-family="Liberation Sans, sans-serif" font-size="6.6" fill="#2e2e2e" stroke="#2e2e2e" stroke-width="0.15">dm</text>
<text transform="translate(114.7,197.9) scale(1.0,1)" font-family="Liberation Sans, sans-serif" font-size="8.5" fill="#2e2e2e">Ω</text>
<text transform="translate(121.0,199.4) scale(1.1,1)" font-family="Liberation Sans, sans-serif" font-size="7.2" font-style="italic" fill="#2e2e2e">f</text>
<text transform="translate(156.8,197.0) scale(1.0,1)" font-family="Liberation Sans, sans-serif" font-size="7.6" fill="#4a4a4a">q</text>
<text transform="translate(194.6,197.3) scale(1.0,1)" font-family="Liberation Sans, sans-serif" font-size="8.6" font-style="italic" fill="#2e2e2e" stroke="#2e2e2e" stroke-width="0.35">w</text>
<text transform="translate(200.9,193.8) scale(0.93,1)" font-family="Liberation Sans, sans-serif" font-size="6.6" fill="#2e2e2e" stroke="#2e2e2e" stroke-width="0.15">eff</text>
<text transform="translate(200.9,199.6) scale(0.86,1)" font-family="Liberation Sans, sans-serif" font-size="6.6" fill="#2e2e2e" stroke="#2e2e2e" stroke-width="0.15">dm</text>
</svg>
</body></html>
